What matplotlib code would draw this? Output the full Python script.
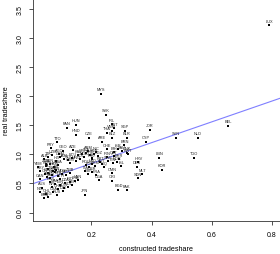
import matplotlib
matplotlib.use("Agg")
import matplotlib.pyplot as plt

plt.rcParams['font.family'] = ['Liberation Sans', 'DejaVu Sans']

codes = ["LUX","MYS","SVK","BEL","PAN","HUN","HND","CZE","IRL","EST","VNM","SGP","THA","BLZ","BLR","ARE","BRN","JOR","CYP","SVN","NLD","LBN","TGO","KOR","TTO","PRY","AZE","GEO","AGO","ZWE","HRV","DEU","MLT","OMN","UGA","CRI","BGD","PAK","JPN","AUS","CHE","BIH","DNK","IRN","PHL",
         "KAZ","LTU","LVA","MKD","BGR","KGZ","MDA","UKR","ARM","NIC",
         "JAM","SLV","ECU","MNG","BOL","GTM",
         "KEN","SEN","NAM","BWA","MLI","FJI",
         "CIV","CMR","BEN","NER","BFA","MDG","MOZ","ZMB","MWI","ETH","TZA","NGA",
         "EGY","MAR","TUN","DZA","IND","LKA","NPL","CHN","IDN","COL","PER","VEN",
         "BRA","ARG","USA","RUS","TUR",
         "ROU","POL","LAO","KHM","PRT","AUT","SWE","FIN","NOR","ISL",
         "ITA","ESP","GBR","FRA",
         "ISR","SAU","KWT","QAT","BHR",
         "CAN","NZL","CHL","TJK","UZB","ALB","DOM","HTI","URY","YEM","SDN","IRQ"]

constructed = [0.790,0.233,0.248,0.655,0.119,0.149,0.149,0.191,0.268,0.276,0.268,0.313,0.252,0.269,0.318,0.235,0.310,0.395,0.381,0.481,0.554,0.426,0.542,0.434,0.087,0.065,0.138,0.105,0.093,0.050,0.356,0.351,0.369,0.270,0.224,0.270,0.290,0.318,0.178,0.038,0.252,0.274,0.318,0.252,0.202,
               0.157,0.170,0.183,0.197,0.210,0.223,0.177,0.203,0.190,0.217,
               0.110,0.124,0.137,0.150,0.164,0.130,
               0.051,0.064,0.077,0.091,0.057,0.084,
               0.047,0.057,0.071,0.081,0.091,0.104,0.117,0.130,0.064,0.097,0.054,0.074,
               0.064,0.081,0.097,0.114,0.130,0.147,0.071,0.090,0.110,0.124,0.137,0.157,
               0.044,0.057,0.074,0.087,0.107,
               0.183,0.193,0.203,0.213,0.230,0.236,0.256,0.273,0.286,0.300,
               0.180,0.190,0.203,0.217,
               0.290,0.303,0.323,0.276,0.293,
               0.031,0.031,0.051,0.057,0.071,0.044,0.097,0.084,0.031,0.024,0.356,0.243]

real = [3.22,2.04,1.68,1.49,1.46,1.51,1.34,1.29,1.52,1.45,1.41,1.41,1.37,1.29,1.29,1.22,1.16,1.42,1.22,1.29,1.29,0.94,0.94,0.735,1.21,1.11,1.07,1.06,1.00,0.83,0.87,0.79,0.66,0.68,0.56,0.55,0.39,0.38,0.31,0.43,1.09,1.04,1.03,0.95,0.92,
        0.988,1.005,1.022,0.988,1.005,0.971,0.954,0.936,1.057,1.040,
        0.919,0.902,0.936,0.885,0.919,0.851,
        0.799,0.833,0.782,0.816,0.747,0.730,
        0.661,0.679,0.644,0.696,0.627,0.661,0.644,0.679,0.593,0.576,0.610,0.713,
        0.524,0.490,0.473,0.507,0.524,0.541,0.438,0.404,0.421,0.438,0.473,0.558,
        0.249,0.266,0.352,0.301,0.369,
        0.816,0.782,0.833,0.799,0.868,0.833,0.885,0.851,0.868,0.799,
        0.713,0.661,0.696,0.644,
        1.091,1.057,1.005,0.971,0.919,
        0.576,0.352,0.318,0.954,0.988,0.919,0.954,0.885,0.713,0.782,0.593,0.782]

fit_intercept = 0.485
fit_slope = 1.79

x_ticks = [0.2, 0.4, 0.6, 0.8]
y_ticks = [0.0, 0.5, 1.0, 1.5, 2.0, 2.5, 3.0, 3.5]

fig = plt.figure(figsize=(2.8, 2.55), dpi=100)
ax = fig.add_axes([0.1179, 0.1282, 0.8807, 0.8718])

ax.scatter(constructed, real, s=1.2, c="black", marker="s", linewidths=0, zorder=3)
for c, x, y in zip(codes, constructed, real):
    ax.annotate(c, (x, y), xytext=(0, 3.2), textcoords="offset points",
                ha="center", va="center", fontsize=2.8, color="#222222")

ax.axline((0, fit_intercept), slope=fit_slope, color="#7f7fff", lw=0.8, zorder=2)

ax.set_xlim(0.0066, 0.825)
ax.set_ylim(-0.15, 3.67)
ax.set_xticks(x_ticks)
ax.set_xticklabels([f"{v:.1f}" for v in x_ticks])
ax.set_yticks(y_ticks)
ax.set_yticklabels([f"{v:.1f}" for v in y_ticks], rotation=90, va="center")
ax.tick_params(axis="both", length=3, width=0.6, labelsize=5, pad=4, color="#333333")
for sp in ax.spines.values():
    sp.set_linewidth(0.6)
    sp.set_color("#333333")

fig.text(7/280, 1 - 111/255, "real tradeshare", rotation=90, ha="center", va="center", fontsize=5.2)
fig.text((32.7 + 279.3) / 2 / 280, 1 - 250/255, "constructed tradeshare", ha="center", va="center", fontsize=5.2)

fig.savefig("out.png", dpi=100)
